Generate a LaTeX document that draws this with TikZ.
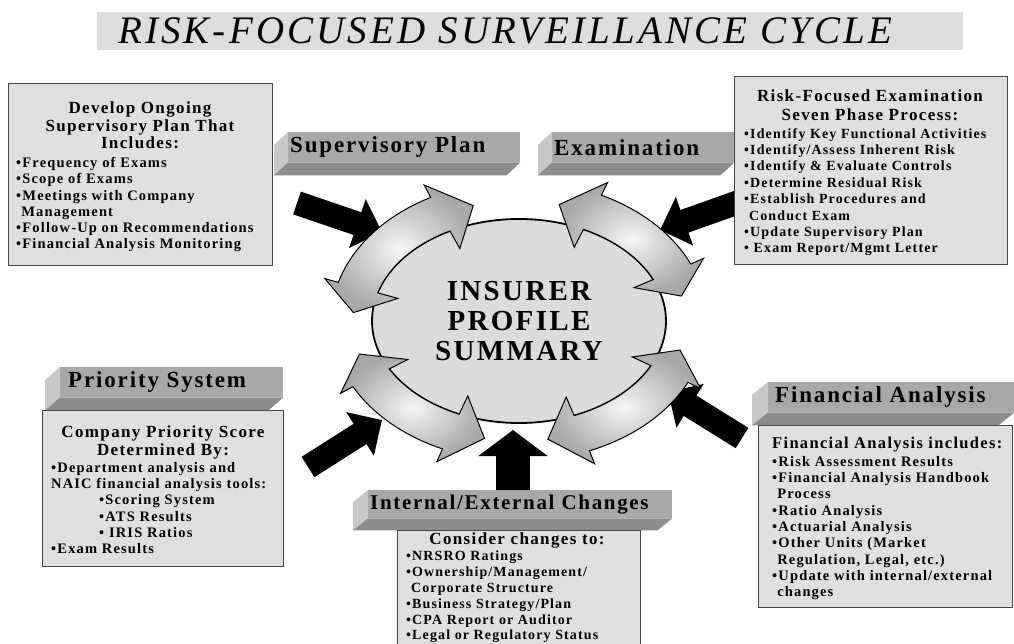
\documentclass[tikz,border=0pt]{standalone}
\usepackage{fontspec}
\setmainfont{Liberation Serif}[LetterSpace=8]
\usetikzlibrary{shapes.geometric,arrows.meta,calc}

\newcommand{\dotitem}{\textbullet}
\newcommand{\dotgap}{\hphantom{\textbullet}}
% curved arrow of the cycle: #1 tail angle, #2 head angle (clockwise)
\newcommand{\cyclearrow}[2]{%
  \pgfmathsetmacro{\tailbase}{#1-12}%
  \pgfmathsetmacro{\headbase}{#2+12}%
  \draw[ringband]
    ($(core)+(\tailbase:188pt and 140pt)$)
    arc[start angle=\tailbase, end angle=\headbase, x radius=188pt, y radius=140pt]
    -- ($(core)+(\headbase:202pt and 154pt)$)
    -- ($(core)+(#2:166pt and 120pt)$)
    -- ($(core)+(\headbase:126pt and 82pt)$)
    -- ($(core)+(\headbase:147pt and 102pt)$)
    arc[start angle=\headbase, end angle=\tailbase, x radius=147pt, y radius=102pt]
    -- ($(core)+(\tailbase:126pt and 82pt)$)
    -- ($(core)+(#1:166pt and 120pt)$)
    -- ($(core)+(\tailbase:202pt and 154pt)$)
    -- cycle;}

\begin{document}
\begin{tikzpicture}[x=1pt,y=1pt,
    titlebar/.style={fill=gray!27, inner ysep=0pt, minimum height=38pt, align=left,
      font=\itshape\fontsize{39}{39}\selectfont},
    infobox/.style={draw=gray!55!black, line width=1.2pt, fill=gray!25, inner sep=0pt},
    head/.style={font=\bfseries\fontsize{17}{17.5}\selectfont, align=center, inner sep=0pt},
    items/.style={font=\bfseries\fontsize{14.5}{16.3}\selectfont, align=left, inner sep=0pt},
    tab/.style={fill=gray!68, minimum height=30pt, inner ysep=0pt, inner xsep=2pt, align=left,
      font=\bfseries\fontsize{23}{23}\selectfont},
    tabside/.style={fill=gray!43},
    tabfoot/.style={fill=gray!90},
    core/.style={ellipse, draw, line width=1.8pt, fill=gray!28, minimum width=294pt,
      minimum height=204pt, inner sep=0pt, align=center,
      font=\bfseries\fontsize{29}{30}\selectfont},
    ringband/.style={draw=black, line width=1pt, inner color=gray!8, outer color=gray!68},
    feed/.style={line width=24pt, -{Triangle[width=50pt,length=26pt]}}]

  \useasboundingbox (0,0) rectangle (1014,-644);
  \clip (0,0) rectangle (1014,-644);

  % Title banner
  \node[titlebar, anchor=west, text width=824pt, inner xsep=21pt] (title) at (97,-31)
    {RISK-FOCUSED SURVEILLANCE CYCLE};

  % Black input arrows
  \coordinate (planfrom) at (297,-203);   \coordinate (planto) at (382,-232);
  \coordinate (examfrom) at (750,-198);   \coordinate (examto) at (660,-230);
  \coordinate (priofrom) at (308,-467);   \coordinate (prioto) at (382,-420);
  \coordinate (changefrom) at (513,-494); \coordinate (changeto) at (513,-430);
  \coordinate (finfrom) at (742,-438);    \coordinate (finto) at (668,-392);
  \draw[feed] (planfrom) -- (planto);
  \draw[feed] (examfrom) -- (examto);
  \draw[feed] (priofrom) -- (prioto);
  \draw[feed] (finfrom) -- (finto);
  \draw[line width=34pt, -{Triangle[width=68pt,length=26pt]}] (changefrom) -- (changeto);

  % Insurer profile summary
  \node[core] (core) at (519,-321) {INSURER\\PROFILE\\SUMMARY};

  % Cycle arrows
  \cyclearrow{176}{106}
  \cyclearrow{76}{12}
  \cyclearrow{-14}{-80}
  \cyclearrow{258}{196}

  % Supervisory Plan tab
  \node[tab, text width=228pt, anchor=north west] (supbar) at (288,-132) {Supervisory Plan};
  \fill[tabside] (supbar.north west) -- (supbar.south west) -- ++(-14,-13)
    -- ($(supbar.north west)+(-14,-13)$) -- cycle;
  \fill[tabfoot] (supbar.south west) -- (supbar.south east) -- ++(-14,-13)
    -- ($(supbar.south west)+(-14,-13)$) -- cycle;

  % Examination tab
  \node[tab, text width=178pt, anchor=north west] (exambar) at (552,-132) {Examination};
  \fill[tabside] (exambar.north west) -- (exambar.south west) -- ++(-14,-13)
    -- ($(exambar.north west)+(-14,-13)$) -- cycle;
  \fill[tabfoot] (exambar.south west) -- (exambar.south east) -- ++(-14,-13)
    -- ($(exambar.south west)+(-14,-13)$) -- cycle;

  % Priority System tab
  \node[tab, text width=207pt, inner xsep=8pt, anchor=north west] (priobar) at (60,-367) {Priority System};
  \fill[tabside] (priobar.north west) -- (priobar.south west) -- ++(-15,-13)
    -- ($(priobar.north west)+(-15,-13)$) -- cycle;
  \fill[tabfoot] (priobar.south west) -- (priobar.south east) -- ++(-15,-13)
    -- ($(priobar.south west)+(-15,-13)$) -- cycle;

  % Financial Analysis tab
  \node[tab, text width=232pt, inner xsep=7pt, anchor=north west] (finbar) at (768,-382) {Financial Analysis};
  \fill[tabside] (finbar.north west) -- (finbar.south west) -- ++(-16,-13)
    -- ($(finbar.north west)+(-16,-13)$) -- cycle;
  \fill[tabfoot] (finbar.south west) -- (finbar.south east) -- ++(-16,-13)
    -- ($(finbar.south west)+(-16,-13)$) -- cycle;

  % Internal/External Changes tab
  \node[tab, text width=300pt, minimum height=28pt, anchor=north west,
    font=\bfseries\fontsize{21}{21}\selectfont] (changebar) at (368,-490) {Internal/External Changes};
  \fill[tabside] (changebar.north west) -- (changebar.south west) -- ++(-15,-12)
    -- ($(changebar.north west)+(-15,-12)$) -- cycle;
  \fill[tabfoot] (changebar.south west) -- (changebar.south east) -- ++(-15,-12)
    -- ($(changebar.south west)+(-15,-12)$) -- cycle;

  % Supervisory plan box
  \node[infobox, minimum width=264pt, minimum height=182pt, anchor=north west] (planbox) at (8,-83) {};
  \node[head, anchor=north] (planhead) at (140,-102) {Develop Ongoing\\Supervisory Plan That\\Includes:};
  \node[items, anchor=north west] (planlist) at (16,-157) {%
    \dotitem Frequency of Exams\\
    \dotitem Scope of Exams\\
    \dotitem Meetings with Company\\
    \dotgap Management\\
    \dotitem Follow-Up on Recommendations\\
    \dotitem Financial Analysis Monitoring};

  % Examination box
  \node[infobox, minimum width=273pt, minimum height=188pt, anchor=north west] (exambox) at (734,-76) {};
  \node[head, anchor=north, font=\bfseries\fontsize{17}{19}\selectfont] (examhead) at (870,-90)
    {Risk-Focused Examination\\Seven Phase Process:};
  \node[items, anchor=north west, font=\bfseries\fontsize{14}{16.4}\selectfont] (examlist) at (744,-128) {%
    \dotitem Identify Key Functional Activities\\
    \dotitem Identify/Assess Inherent Risk\\
    \dotitem Identify \& Evaluate Controls\\
    \dotitem Determine Residual Risk\\
    \dotitem Establish Procedures and\\
    \dotgap Conduct Exam\\
    \dotitem Update Supervisory Plan\\
    \dotitem{} Exam Report/Mgmt Letter};

  % Priority system box
  \node[infobox, minimum width=241pt, minimum height=156pt, anchor=north west] (priobox) at (42,-410) {};
  \node[head, anchor=north] (priohead) at (163,-426) {Company Priority Score\\Determined By:};
  \node[items, anchor=north west] (priolist) at (51,-462) {%
    \dotitem Department analysis and\\
    NAIC financial analysis tools:\\
    \hspace*{48pt}\dotitem Scoring System\\
    \hspace*{48pt}\dotitem ATS Results\\
    \hspace*{48pt}\dotitem{} IRIS Ratios\\
    \dotitem Exam Results};

  % Financial analysis box
  \node[infobox, minimum width=254pt, minimum height=182pt, anchor=north west] (finbox) at (758,-425) {};
  \node[head, anchor=north west, font=\bfseries\fontsize{16.5}{17}\selectfont] (finhead) at (772,-437)
    {Financial Analysis includes:};
  \node[items, anchor=north west] (finlist) at (772,-456) {%
    \dotitem Risk Assessment Results\\
    \dotitem Financial Analysis Handbook\\
    \dotgap Process\\
    \dotitem Ratio Analysis\\
    \dotitem Actuarial Analysis\\
    \dotitem Other Units (Market\\
    \dotgap Regulation, Legal, etc.)\\
    \dotitem Update with internal/external\\
    \dotgap changes};

  % Internal/external changes box
  \node[infobox, minimum width=243pt, minimum height=124pt, anchor=north west] (changebox) at (397,-530) {};
  \node[head, anchor=north] (changehead) at (517,-533) {Consider changes to:};
  \node[items, anchor=north west, font=\bfseries\fontsize{14}{15.8}\selectfont] (changelist) at (406,-551) {%
    \dotitem NRSRO Ratings\\
    \dotitem Ownership/Management/\\
    \dotgap Corporate Structure\\
    \dotitem Business Strategy/Plan\\
    \dotitem CPA Report or Auditor\\
    \dotitem Legal or Regulatory Status};
\end{tikzpicture}
\end{document}
